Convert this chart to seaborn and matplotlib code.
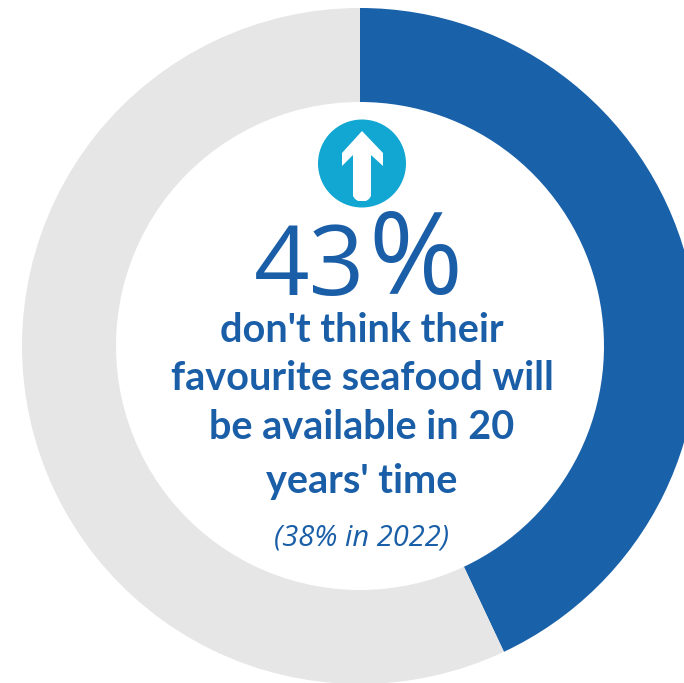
import matplotlib
matplotlib.use("Agg")
import matplotlib.pyplot as plt
from matplotlib.patches import Circle, Polygon
import seaborn as sns

# Survey shares, drawn clockwise from twelve o'clock
segments = ["Not available in 20 years", "Everyone else"]
shares = [43, 57]
ring_colours = ["#1961a8", "#e6e6e6"]

headline_value = "43"
headline_sign = "%"
statement_lines = ["don't think their", "favourite seafood will", "be available in 20", "years' time"]
comparison = "(38% in 2022)"

INK = "#1a5ea8"
BADGE = "#12a6d2"

sns.set_theme(style="white")
plt.rcParams["font.family"] = ["Lato", "DejaVu Sans"]

W, H = 684, 683
fig = plt.figure(figsize=(W / 100, H / 100), dpi=100, facecolor="white")
ax = fig.add_axes([0, 0, 1, 1])

cx, cy, radius = 360, H - 346, 338
ax.pie(
    shares,
    colors=ring_colours,
    startangle=90,
    counterclock=False,
    center=(cx, cy),
    radius=radius,
    wedgeprops=dict(width=radius - 244, linewidth=0),
)
ax.set_xlim(0, W)
ax.set_ylim(0, H)
ax.set_aspect("equal")
ax.axis("off")

# Upward-arrow badge
ax.add_patch(Circle((362, H - 163.5), 44, facecolor=BADGE, edgecolor="none"))
arrow_outline = [(362, 131), (383, 153), (383, 166), (371, 155), (371, 196), (369, 199), (366, 201),
                 (358, 201), (355, 199), (353, 196), (353, 155), (342, 166), (342, 153)]
ax.add_patch(Polygon([(x, H - y) for x, y in arrow_outline], closed=True,
                     facecolor="white", edgecolor="none"))

# Headline figure, with an oversized percent sign
ax.text(365, H - 295, headline_value, color=INK, fontsize=70, family=["Open Sans", "DejaVu Sans"],
        ha="right", va="baseline")
ax.text(368, H - 294, headline_sign, color=INK, fontsize=82, family=["Open Sans", "DejaVu Sans"],
        ha="left", va="baseline")

baselines = [342, 390, 439, 493]
for line, y in zip(statement_lines, baselines):
    ax.text(362, H - y, line, color=INK, fontsize=28.5, fontweight="bold",
            ha="center", va="baseline")

ax.text(362, H - 545, comparison, color=INK, fontsize=21, fontstyle="italic",
        family=["Open Sans", "DejaVu Sans"], ha="center", va="baseline")

fig.savefig("out.png", dpi=100, facecolor="white")
